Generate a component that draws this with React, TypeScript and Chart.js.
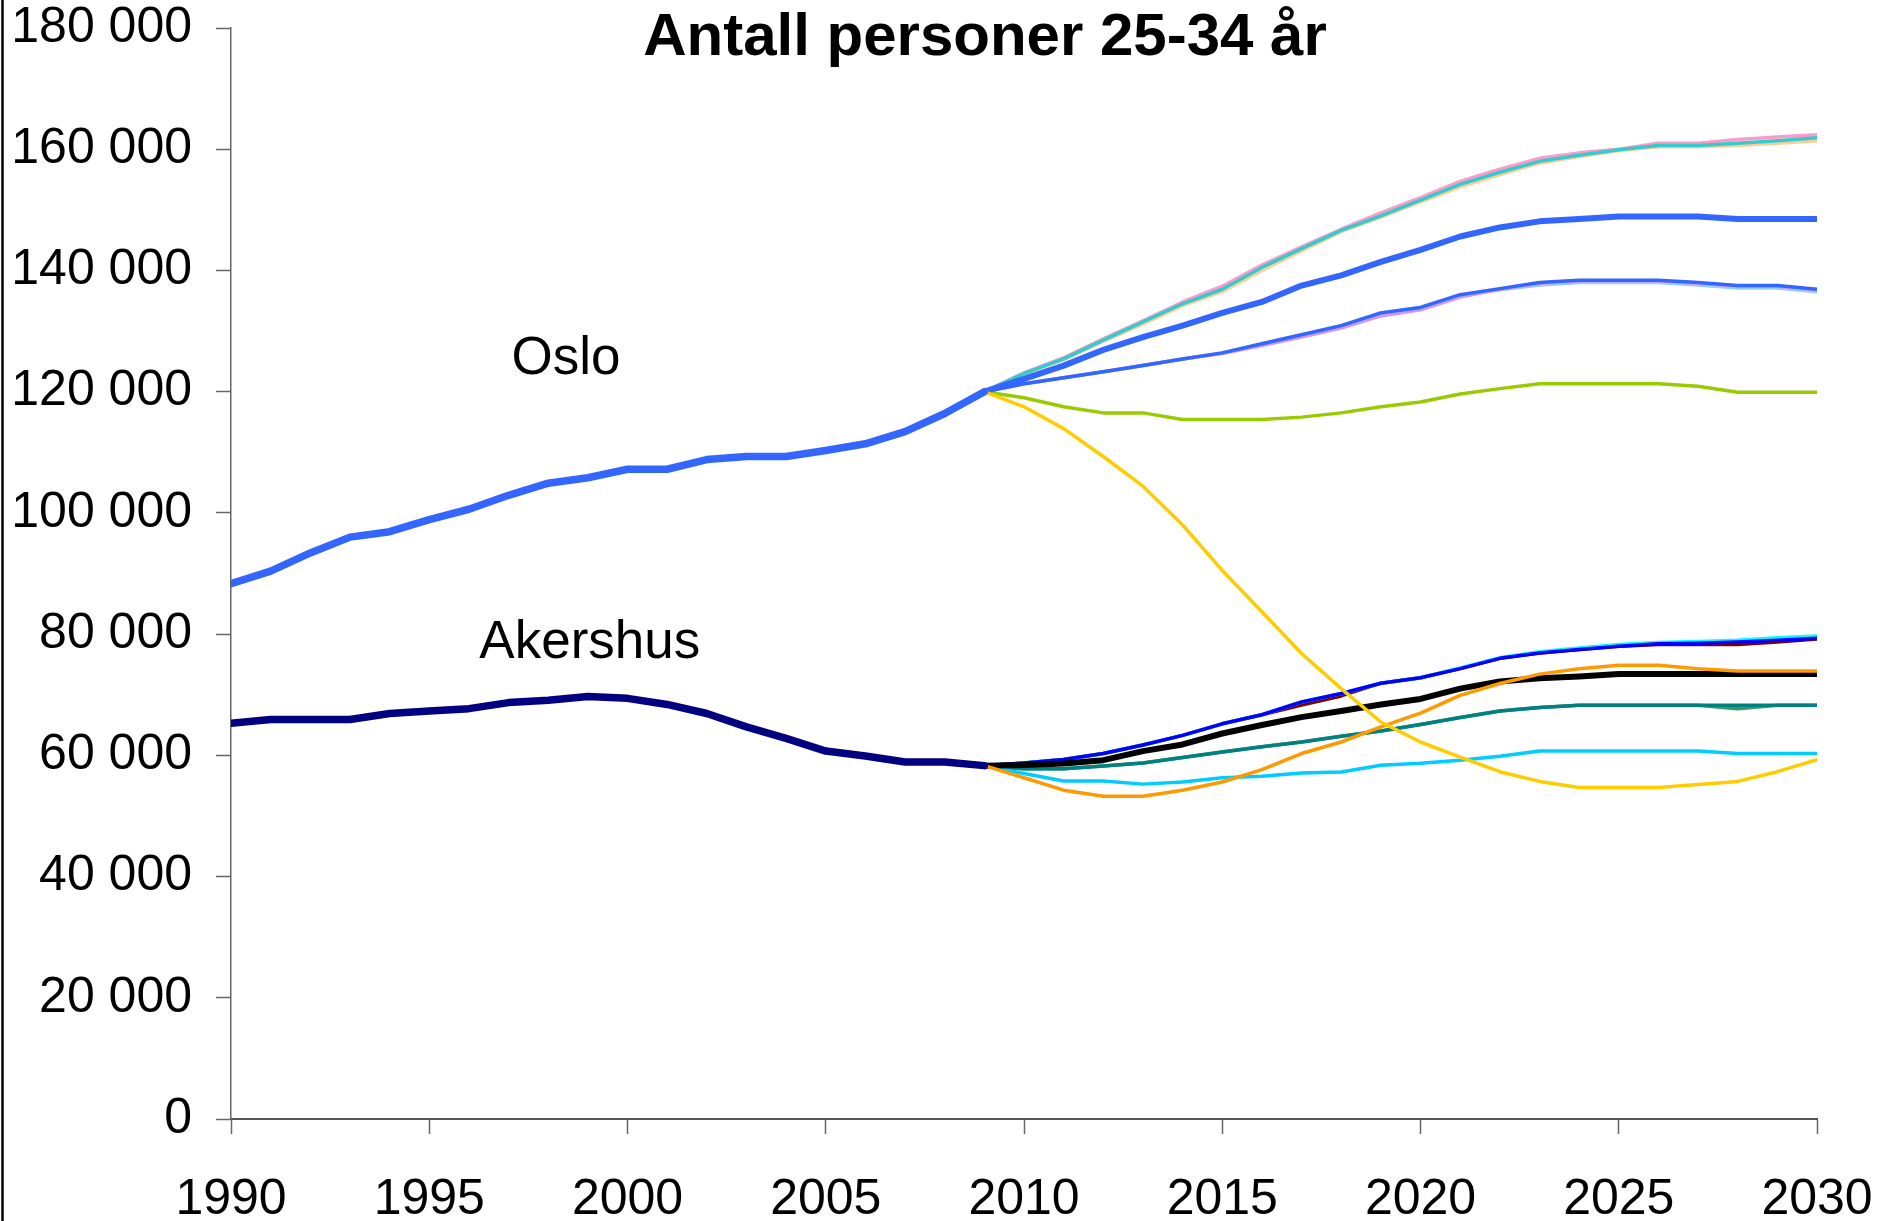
import React, { useEffect, useRef } from 'react';
import { Chart, registerables } from 'chart.js';

Chart.register(...registerables);

const FONT = '"Liberation Sans", Arial, Helvetica, sans-serif';

const titleText = 'Antall personer 25-34 år';
const osloLabel = 'Oslo';
const akershusLabel = 'Akershus';

const histYears = [1990, 1991, 1992, 1993, 1994, 1995, 1996, 1997, 1998, 1999, 2000, 2001, 2002, 2003, 2004, 2005, 2006, 2007, 2008, 2009];
const projYears = [2009, 2010, 2011, 2012, 2013, 2014, 2015, 2016, 2017, 2018, 2019, 2020, 2021, 2022, 2023, 2024, 2025, 2026, 2027, 2028, 2029, 2030];

const osloHistory = [88300, 90400, 93400, 96000, 96900, 98900, 100600, 102900, 104900, 105800, 107200, 107200, 108800, 109300, 109300, 110300, 111400, 113400, 116400, 120000];
const akershusHistory = [65300, 65900, 65900, 65900, 66900, 67300, 67700, 68700, 69100, 69700, 69400, 68400, 66900, 64700, 62800, 60700, 59900, 58900, 58900, 58300];

// Oslo projections
const osloPeach = [120000, 122900, 125300, 128300, 131200, 134200, 136500, 140000, 143200, 146400, 148800, 151300, 153800, 155800, 157700, 158800, 159800, 160400, 160400, 160600, 161000, 161400];
const osloPink = [120000, 123100, 125600, 128700, 131700, 134800, 137400, 140900, 143900, 146800, 149500, 152000, 154700, 156700, 158500, 159400, 160000, 161000, 161000, 161600, 162000, 162400];
const osloTeal = [120000, 123000, 125400, 128500, 131500, 134500, 136900, 140500, 143600, 146600, 149000, 151600, 154200, 156200, 158000, 159000, 159900, 160600, 160600, 161000, 161400, 161900];
const osloMain = [120000, 122100, 124300, 126900, 129000, 130900, 133000, 134800, 137500, 139200, 141400, 143400, 145600, 147100, 148100, 148500, 148900, 148900, 148900, 148500, 148500, 148500];
const osloThin = [120000, 121300, 122300, 123300, 124300, 125400, 126400, 127900, 129400, 130900, 133000, 133900, 136000, 137000, 138000, 138400, 138400, 138400, 138000, 137500, 137500, 136900];
const osloLightBlue = [120000, 121300, 122300, 123300, 124300, 125400, 126400, 127900, 129400, 130900, 133000, 133900, 135900, 136800, 137600, 138000, 138000, 138000, 137600, 137100, 137100, 136500];
const osloPurple = [120000, 121300, 122300, 123300, 124300, 125400, 126300, 127600, 129000, 130500, 132500, 133500, 135600, 136900, 137900, 138300, 138300, 138300, 137900, 137400, 137400, 136800];
const osloGreen = [120000, 119000, 117500, 116500, 116500, 115400, 115400, 115400, 115800, 116500, 117500, 118300, 119600, 120500, 121300, 121300, 121300, 121300, 120900, 119900, 119900, 119900];
const osloYellow = [120000, 117500, 113900, 109300, 104400, 98000, 90500, 83700, 76800, 71000, 65500, 62200, 59700, 57300, 55700, 54700, 54700, 54700, 55200, 55700, 57300, 59300];

// Akershus projections
const akBlue = [58300, 58750, 59300, 60300, 61700, 63300, 65200, 66700, 68800, 70200, 71900, 72800, 74300, 76000, 76900, 77450, 78000, 78400, 78500, 78700, 79000, 79300];
const akCyan = [58300, 58750, 59300, 60300, 61700, 63300, 65200, 66700, 68800, 70200, 71900, 72800, 74400, 76100, 77100, 77700, 78300, 78600, 78800, 79000, 79400, 79700];
const akDarkRed = [58300, 58750, 59300, 60300, 61700, 63300, 65200, 66700, 68300, 69800, 71900, 72800, 74300, 76000, 76900, 77450, 78000, 78300, 78300, 78300, 78700, 79200];
const akBlack = [58300, 58400, 58650, 59200, 60700, 61800, 63600, 65000, 66300, 67300, 68400, 69300, 71000, 72200, 72700, 73000, 73400, 73400, 73400, 73400, 73400, 73400];
const akOrange = [58300, 56300, 54250, 53250, 53250, 54250, 55600, 57650, 60300, 62200, 64700, 66950, 69900, 71850, 73400, 74300, 74850, 74850, 74300, 73900, 73900, 73900];
const akTeal = [58300, 57800, 57800, 58250, 58750, 59650, 60550, 61400, 62200, 63150, 64000, 65100, 66250, 67300, 67900, 68250, 68250, 68250, 68250, 68250, 68250, 68250];
const akGreen = [58300, 57800, 57800, 58250, 58750, 59650, 60550, 61400, 62200, 63150, 64000, 65100, 66250, 67300, 67900, 68250, 68250, 68250, 68250, 67700, 68250, 68250];
const akSky = [58300, 57000, 55750, 55750, 55250, 55600, 56300, 56550, 57100, 57250, 58350, 58700, 59200, 59850, 60700, 60700, 60700, 60700, 60700, 60300, 60300, 60300];

const xTicksMin = 1990;
const xTicksMax = 2030;
const xStep = 5;
const yMin = 0;
const yMax = 180000;
const yStep = 20000;

const pts = (years: number[], vals: number[]) => years.map((x, i) => ({ x, y: vals[i] }));

const fmtThousands = (v: number) => String(Math.round(v)).replace(/\B(?=(\d{3})+(?!\d))/g, ' ');

export default function App() {
  const canvasRef = useRef<HTMLCanvasElement | null>(null);

  useEffect(() => {
    if (!canvasRef.current) return;

    // back-to-front order
    const series: { data: number[]; years: number[]; color: string; width: number }[] = [
      { data: osloPeach, years: projYears, color: '#FFCC99', width: 3.5 },
      { data: osloPink, years: projYears, color: '#FF99CC', width: 3.5 },
      { data: osloTeal, years: projYears, color: '#33CCCC', width: 3.5 },
      { data: osloLightBlue, years: projYears, color: '#99CCFF', width: 3.5 },
      { data: osloPurple, years: projYears, color: '#CC99FF', width: 3.5 },
      { data: osloThin, years: projYears, color: '#3366FF', width: 3.5 },
      { data: osloGreen, years: projYears, color: '#99CC00', width: 3.5 },
      { data: osloMain, years: projYears, color: '#3366FF', width: 6 },
      { data: akDarkRed, years: projYears, color: '#800000', width: 3.5 },
      { data: akCyan, years: projYears, color: '#00FFFF', width: 3.5 },
      { data: akBlue, years: projYears, color: '#0000FF', width: 3.5 },
      { data: akGreen, years: projYears, color: '#339966', width: 3.5 },
      { data: akTeal, years: projYears, color: '#008080', width: 3.5 },
      { data: akSky, years: projYears, color: '#00CCFF', width: 3.5 },
      { data: akBlack, years: projYears, color: '#000000', width: 6 },
      { data: akOrange, years: projYears, color: '#FF9900', width: 3.5 },
      { data: osloYellow, years: projYears, color: '#FFCC00', width: 3.5 },
      { data: osloHistory, years: histYears, color: '#3366FF', width: 7.5 },
      { data: akershusHistory, years: histYears, color: '#000080', width: 7.5 },
    ];

    const n = series.length;
    const datasets = series.map((s, i) => ({
      data: pts(s.years, s.data),
      borderColor: s.color,
      backgroundColor: s.color,
      borderWidth: s.width,
      pointRadius: 0,
      pointHoverRadius: 0,
      tension: 0,
      fill: false,
      borderCapStyle: 'round' as const,
      borderJoinStyle: 'round' as const,
      order: n - i,
    }));

    const annotations = {
      id: 'annotations',
      beforeDraw(chart: any) {
        const ctx = chart.ctx;
        ctx.save();
        ctx.fillStyle = '#ffffff';
        ctx.fillRect(0, 0, chart.width, chart.height);
        ctx.strokeStyle = '#000000';
        ctx.lineWidth = 2.5;
        ctx.beginPath();
        ctx.moveTo(2.5, 0);
        ctx.lineTo(2.5, chart.height);
        ctx.stroke();
        ctx.restore();
      },
      afterDraw(chart: any) {
        const ctx = chart.ctx;
        const xs = chart.scales.x;
        const ys = chart.scales.y;
        ctx.save();
        ctx.fillStyle = '#000000';
        ctx.textAlign = 'center';
        ctx.textBaseline = 'alphabetic';
        ctx.font = `bold 60px ${FONT}`;
        ctx.fillText(titleText, 985, 55);
        ctx.textBaseline = 'middle';
        ctx.font = `53px ${FONT}`;
        ctx.fillText(osloLabel, xs.getPixelForValue(1998.45), ys.getPixelForValue(125300));
        ctx.fillText(akershusLabel, xs.getPixelForValue(1999.05), ys.getPixelForValue(78400));
        ctx.restore();
      },
    };

    const chart = new Chart(canvasRef.current, {
      type: 'line',
      data: { datasets },
      options: {
        animation: false,
        responsive: true,
        maintainAspectRatio: false,
        layout: { padding: { top: 28, right: 62, left: 0, bottom: 0 } },
        plugins: {
          legend: { display: false },
          title: { display: false },
          tooltip: { enabled: false },
        },
        events: [],
        scales: {
          x: {
            type: 'linear',
            min: xTicksMin,
            max: xTicksMax,
            afterFit: (scale: any) => {
              scale.height = 102;
              scale.paddingLeft = 0;
              scale.paddingRight = 0;
            },
            ticks: {
              stepSize: xStep,
              autoSkip: false,
              maxRotation: 0,
              padding: 41,
              color: '#000000',
              font: { family: FONT, size: 50, lineHeight: 1 },
              callback: (v: any) => String(v),
            },
            grid: {
              display: true,
              drawOnChartArea: false,
              drawTicks: true,
              tickLength: 15,
              tickColor: '#666666',
              tickWidth: 1.5,
            },
            border: { display: true, color: '#555555', width: 2 },
          },
          y: {
            type: 'linear',
            min: yMin,
            max: yMax,
            afterFit: (scale: any) => {
              scale.width = 231;
              scale.paddingTop = 0;
              scale.paddingBottom = 0;
            },
            ticks: {
              stepSize: yStep,
              padding: 24,
              color: '#000000',
              font: { family: FONT, size: 50, lineHeight: 1 },
              callback: (v: any) => fmtThousands(Number(v)),
            },
            grid: {
              display: true,
              drawOnChartArea: false,
              drawTicks: true,
              tickLength: 15,
              tickColor: '#666666',
              tickWidth: 1.5,
            },
            border: { display: true, color: '#666666', width: 1.5 },
          },
        },
      },
      plugins: [annotations],
    });

    return () => chart.destroy();
  }, []);

  return (
    <div style={{ position: 'absolute', left: 0, top: 0, width: 1879, height: 1221, background: '#fff' }}>
      <canvas ref={canvasRef} />
    </div>
  );
}
